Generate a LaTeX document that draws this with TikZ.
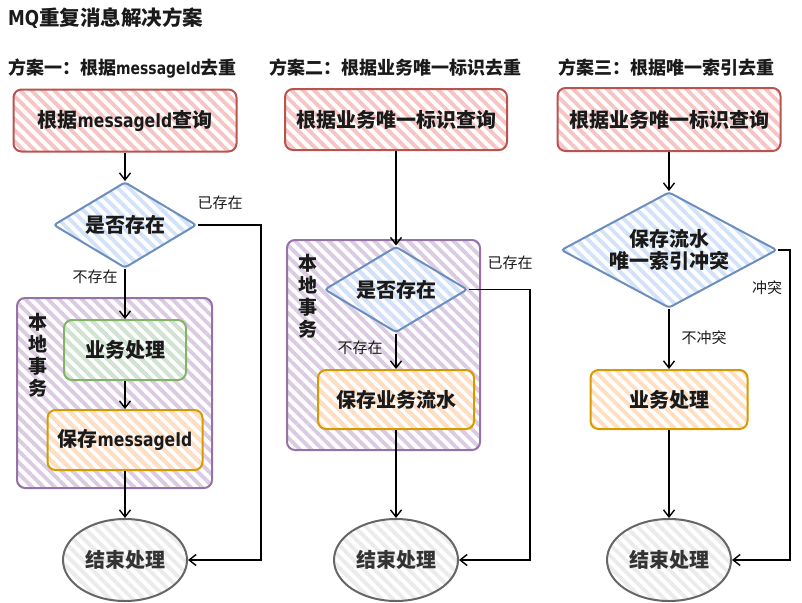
\documentclass[tikz,border=0pt]{standalone}
\usepackage{fontspec}
\setmainfont{Noto Sans CJK SC}
\newfontfamily\lat{DejaVu Sans}[FakeStretch=0.82]
\usetikzlibrary{shapes.geometric,arrows.meta,patterns.meta}
\definecolor{redF}{HTML}{F6C4C2}\definecolor{redS}{HTML}{B85450}
\definecolor{bluF}{HTML}{D2E2F8}\definecolor{bluS}{HTML}{6C8EBF}
\definecolor{grnF}{HTML}{D0E5CF}\definecolor{grnS}{HTML}{82B366}
\definecolor{orgF}{HTML}{FFDFC0}\definecolor{orgS}{HTML}{D79B00}
\definecolor{purF}{HTML}{DACBE2}\definecolor{purS}{HTML}{9673A6}
\definecolor{gryF}{HTML}{EBEBEB}\definecolor{gryS}{HTML}{666666}
\definecolor{txt}{HTML}{1A1A1A}
\newcommand\myfs[1]{\fontsize{#1}{#1}\selectfont}
\tikzset{
  hatch/.style={pattern={Lines[angle=-45,distance=8pt,line width=3.8pt]}, pattern color=#1},
  box/.style={rectangle, rounded corners=8pt, line width=2pt, inner sep=0pt, text=txt,
              font=\bfseries\myfs{20}},
  redbox/.style={box, draw=redS, hatch=redF},
  grnbox/.style={box, draw=grnS, hatch=grnF},
  orgbox/.style={box, draw=orgS, hatch=orgF},
  purbox/.style={box, draw=purS, hatch=purF},
  dia/.style={diamond, aspect=1.7, rounded corners=3pt, line width=2pt, inner sep=0pt,
              draw=bluS, hatch=bluF, text=txt, font=\bfseries\myfs{20}, align=center},
  endn/.style={ellipse, line width=2pt, inner sep=0pt, draw=gryS, hatch=gryF,
               text=black!80, font=\bfseries\myfs{20}, minimum width=124pt, minimum height=82pt},
  lbl/.style={font=\myfs{15}, text=txt, inner sep=0pt},
  sub/.style={font=\bfseries\myfs{18}, text=txt, anchor=west, inner sep=0pt},
  vert/.style={font=\bfseries\myfs{19}, text=txt, align=center, inner sep=0pt},
  arr/.style={line width=1.4pt, draw=black, -{Straight Barb[length=7pt,width=11pt,line width=1.4pt]}},
}
\begin{document}
\begin{tikzpicture}[x=1pt,y=-1pt]
\useasboundingbox (0,0) rectangle (802,602);

% titles
\node[font=\bfseries\myfs{20.5}, text=txt, anchor=west, inner sep=0pt] (title) at (8,18) {{\lat MQ}重复消息解决方案};
\node[sub] (s1) at (8,68) {方案一：根据{\lat\myfs{17}messageId}去重};
\node[sub] (s2) at (269,68) {方案二：根据业务唯一标识去重};
\node[sub] (s3) at (558,68) {方案三：根据唯一索引去重};

% ---------- column 1
\node[purbox, minimum width=195pt, minimum height=190pt] (p1) at (114.5,393) {};
\node[vert, align=center] (v1) at (38,355) {本\\[3pt]地\\[3pt]事\\[3pt]务};
\node[redbox, minimum width=223pt, minimum height=62pt] (r1) at (125,120.5) {根据{\lat\myfs{19}messageId}查询};
\node[dia, minimum width=143pt, minimum height=86pt] (d1) at (125,225) {是否存在};
\node[grnbox, minimum width=122pt, minimum height=60pt] (g1) at (125,350) {业务处理};
\node[orgbox, minimum width=155pt, minimum height=60pt] (o1) at (125,440) {保存{\lat\myfs{19}messageId}};
\node[endn] (e1) at (125,560) {结束处理};
\node[lbl] (l1a) at (220,203) {已存在};
\node[lbl] (l1b) at (95,277) {不存在};
\coordinate (k1) at (261,0);
\draw[arr] (r1.south) -- (d1.north);
\draw[arr] (d1.south) -- (g1.north);
\draw[arr] (g1.south) -- (o1.north);
\draw[arr] (o1.south) -- (e1.north);
\draw[arr] (d1.east) -| (k1 |- e1.east) -- (e1.east);

% ---------- column 2
\node[purbox, minimum width=193pt, minimum height=210pt] (p2) at (383.5,345) {};
\node[vert] (v2) at (308,296.5) {本\\[3pt]地\\[3pt]事\\[3pt]务};
\node[redbox, minimum width=222pt, minimum height=61pt] (r2) at (396,119.5) {根据业务唯一标识查询};
\node[dia, minimum width=143pt, minimum height=86pt] (d2) at (396,289.5) {是否存在};
\node[orgbox, minimum width=156pt, minimum height=59pt] (o2) at (396,399.5) {保存业务流水};
\node[endn] (e2) at (396,560) {结束处理};
\node[lbl] (l2a) at (510,263) {已存在};
\node[lbl] (l2b) at (360,348) {不存在};
\coordinate (k2) at (530,0);
\draw[arr] (r2.south) -- (d2.north);
\draw[arr] (d2.south) -- (o2.north);
\draw[arr] (o2.south) -- (e2.north);
\draw[arr] (d2.east) -| (k2 |- e2.east) -- (e2.east);

% ---------- column 3
\node[redbox, minimum width=223pt, minimum height=63pt] (r3) at (669,119.5) {根据业务唯一标识查询};
\node[dia, minimum width=216pt, minimum height=116pt] (d3) at (669,250) {保存流水\\[2pt]唯一索引冲突};
\node[orgbox, minimum width=157pt, minimum height=59pt] (o3) at (669,399.5) {业务处理};
\node[endn] (e3) at (669,560) {结束处理};
\node[lbl] (l3a) at (767,288) {冲突};
\node[lbl] (l3b) at (704,338) {不冲突};
\coordinate (k3) at (790,0);
\draw[arr] (r3.south) -- (d3.north);
\draw[arr] (d3.south) -- (o3.north);
\draw[arr] (o3.south) -- (e3.north);
\draw[arr] (d3.east) -| (k3 |- e3.east) -- (e3.east);
\end{tikzpicture}
\end{document}
